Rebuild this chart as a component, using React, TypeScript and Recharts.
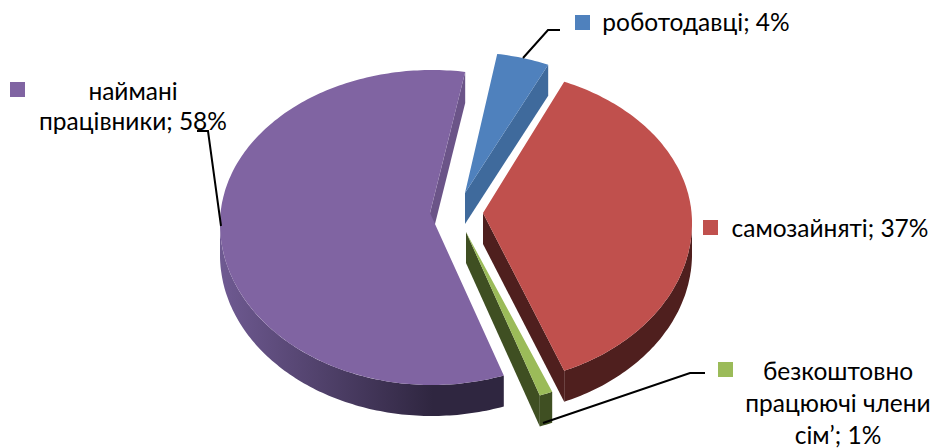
import { PieChart, Pie } from "recharts";

const WIDTH = 934;
const HEIGHT = 448;

const categories = ["роботодавці", "самозайняті", "безкоштовно працюючі члени сім’", "наймані працівники"];
const shares = [4, 37, 1, 58];
const colors = ["#4f81bd", "#c0504d", "#9bbb59", "#8064a2"];
const wallColors = ["#3f6a9c", "#4f1f1e", "#3f4f22", "#6b5488"];
const rimFrom = ["#3f6a9c", "#4f1f1e", "#3f4f22", "#6f5a92"];
const rimTo = ["#3f6a9c", "#4f1f1e", "#3f4f22", "#2f2640"];

const data = categories.map((name, i) => ({ name, value: shares[i] }));

// pie centre and tilt
const CX = 432;
const CY = 224;
const RX = 212;
const RY_BACK = 154;
const RY_FRONT = 161;
const DEPTH = 31;

// how far each slice is pulled out, and where its tip lands
const explode = [[32, -18], [48, -1], [36, 20], [0, 0]];
const tipShift = [[1, -13], [3, -10], [-2, -12], [-2, -11]];

const labelLines = [["роботодавці; 4%"], ["самозайняті; 37%"], ["безкоштовно", "працюючі члени", "сім’; 1%"], ["наймані", "працівники; 58%"]];
const labelX = [696, 830, 838, 133];
const labelY = [31, 237, 380, 100];
const lineGap = [0, 0, 32, 30];
const swatches = [[575, 15], [703, 220], [718, 362], [10, 82]];
const leaders = ["M523 58L548 30L560 30", "", "M543 423L690 373L705 373", "M197 131L208 131L221 226"];

const rad = (d: number) => (d * Math.PI) / 180;

function rimPoint(t: number, ox: number, oy: number, drop = 0) {
  const c = Math.cos(rad(t));
  const ry = c > 0 ? RY_BACK : RY_FRONT;
  return [CX + ox + RX * Math.sin(rad(t)), CY + oy - ry * c + drop];
}

function arc(from: number, to: number, ox: number, oy: number, drop = 0) {
  const pts = [];
  const steps = Math.max(2, Math.ceil(Math.abs(to - from)));
  for (let i = 0; i <= steps; i++) {
    pts.push(rimPoint(from + ((to - from) * i) / steps, ox, oy, drop));
  }
  return pts;
}

const toPath = (pts: number[][]) =>
  "M" + pts.map((p) => p[0].toFixed(1) + " " + p[1].toFixed(1)).join("L") + "Z";

function Slice(props: any) {
  const { startAngle, endAngle, index, fill } = props;
  // recharts angles run counter clockwise from 3 o'clock
  const t1 = 90 - startAngle;
  const t2 = 90 - endAngle;
  const [ox, oy] = explode[index];
  const tip = [CX + ox + tipShift[index][0], CY + oy + tipShift[index][1]];
  const tipLow = [tip[0], tip[1] + DEPTH];

  const top = toPath([tip, ...arc(t1, t2, ox, oy)]);
  const outer = rimPoint(t2, ox, oy);
  const endWall = toPath([tip, outer, rimPoint(t2, ox, oy, DEPTH), tipLow]);

  // only the part of the rim facing the viewer
  const a = Math.max(t1, 90);
  const b = Math.min(t2, 270);
  const front = a < b ? arc(a, b, ox, oy) : [];
  const frontLow = a < b ? arc(b, a, ox, oy, DEPTH) : [];

  return (
    <g>
      <defs>
        <linearGradient id={"rim" + index} x1="0" y1="0" x2="1" y2="0">
          <stop offset="0" stopColor={rimFrom[index]} />
          <stop offset="0.75" stopColor={rimTo[index]} />
          <stop offset="1" stopColor={rimTo[index]} />
        </linearGradient>
      </defs>
      <path d={endWall} fill={wallColors[index]} />
      {front.length > 0 && <path d={toPath([...front, ...frontLow])} fill={`url(#rim${index})`} />}
      <path d={top} fill={fill} />
    </g>
  );
}

function SliceLabel(props: any) {
  const { index } = props;
  const lines = labelLines[index];
  return (
    <g>
      {leaders[index] && <path d={leaders[index]} fill="none" stroke="#000" strokeWidth={2} />}
      <rect x={swatches[index][0]} y={swatches[index][1]} width={15} height={15} fill={colors[index]} />
      {lines.map((line, i) => (
        <text
          key={line}
          x={labelX[index]}
          y={labelY[index] + i * lineGap[index]}
          textAnchor="middle"
          fontFamily="Lato, 'Open Sans', sans-serif"
          fontSize={24.5}
          fill="#000"
        >
          {line}
        </text>
      ))}
    </g>
  );
}

export default function App() {
  return (
    <div style={{ position: "absolute", left: 0, top: 0, width: WIDTH, height: HEIGHT, background: "#fff" }}>
      <PieChart width={WIDTH} height={HEIGHT} margin={{ top: 0, right: 0, bottom: 0, left: 0 }}>
        <Pie
          data={data}
          dataKey="value"
          nameKey="name"
          cx={CX}
          cy={CY}
          outerRadius={RX}
          startAngle={81}
          endAngle={-279}
          stroke="none"
          fill="#8064a2"
          isAnimationActive={false}
          shape={(p: any) => <Slice {...p} fill={colors[p.index]} />}
          label={(p: any) => <SliceLabel {...p} />}
          labelLine={false}
        />
      </PieChart>
    </div>
  );
}
